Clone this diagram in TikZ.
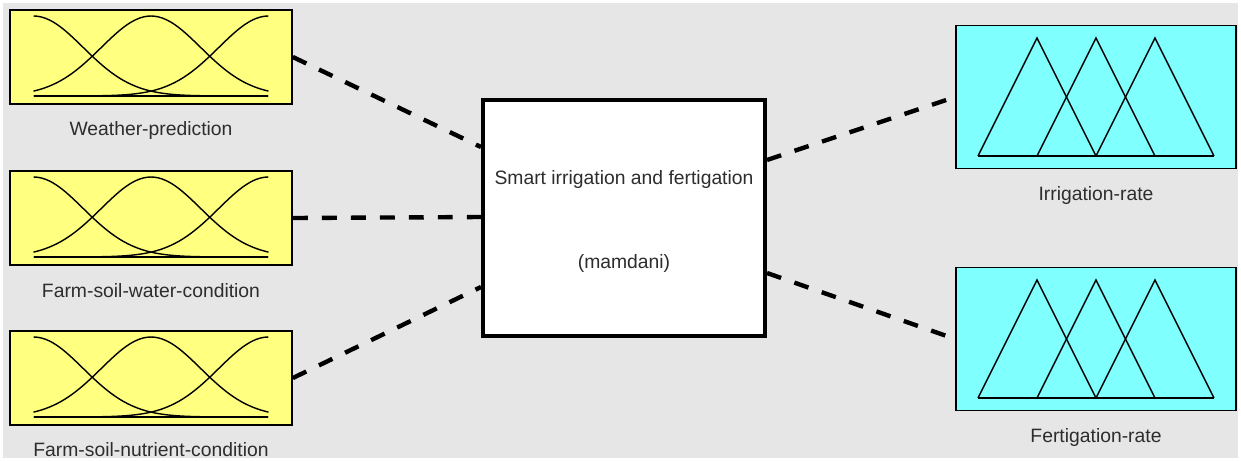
\documentclass[tikz,border=0pt]{standalone}
\usepackage{xcolor}
\usepackage{fontspec}
\setmainfont{Liberation Sans}
\usetikzlibrary{shapes}

\definecolor{inyellow}{RGB}{255,255,128}
\definecolor{outcyan}{RGB}{128,255,255}
\definecolor{bggray}{RGB}{230,230,230}
\definecolor{labelgray}{RGB}{45,45,45}

% three gaussian membership functions inside an input box
\newcommand{\gaussmfs}[1]{%
  \begin{scope}[shift={(#1.center)}, yshift=-0.78cm, x=2.35cm, y=1.6cm, line width=0.8pt]
    \foreach \m in {-1,0,1}
      \draw plot[domain=-1:1, samples=61, smooth] (\x, {exp(-((\x-\m)^2)/0.358)});
    \draw (-1,0) -- (1,0);
  \end{scope}}

% three triangular membership functions inside an output box
\newcommand{\trimfs}[1]{%
  \begin{scope}[shift={(#1.center)}, x=1.18cm, y=1.18cm, line width=0.8pt]
    \draw (-2,-1) -- (2,-1);
    \foreach \m in {-1,0,1}
      \draw (\m-1,-1) -- (\m,1) -- (\m+1,-1);
  \end{scope}}

\tikzset{
  invar/.style={draw=black, line width=1pt, fill=inyellow, minimum width=5.64cm, minimum height=1.88cm},
  outvar/.style={draw=black, line width=1pt, fill=outcyan, minimum width=5.6cm, minimum height=2.86cm},
  fisbox/.style={draw=black, line width=2.2pt, fill=white, minimum width=5.64cm, minimum height=4.72cm},
  varname/.style={text=labelgray, inner sep=0pt, font=\fontsize{11}{13}\selectfont},
}

\begin{document}
\begin{tikzpicture}[x=0.02cm, y=-0.02cm]
  \useasboundingbox (0,0) rectangle (1241,461);
  \fill[bggray] (3,3) rectangle (1238,458);

  % inputs
  \node[invar] (weather) at (151,57) {};
  \node[invar] (water) at (151,218) {};
  \node[invar] (nutrient) at (151,378) {};
  \gaussmfs{weather}
  \gaussmfs{water}
  \gaussmfs{nutrient}
  \node[varname] (weatherlab) at (151,130) {Weather-prediction};
  \node[varname] (waterlab) at (151,291) {Farm-soil-water-condition};
  \node[varname] (nutrientlab) at (151,450) {Farm-soil-nutrient-condition};

  % rule block
  \node[fisbox] (fis) at (624,218) {};
  \node[varname] (fisname) at (624,179) {Smart irrigation and fertigation};
  \node[varname] (fistype) at (624,263) {(mamdani)};

  % outputs
  \node[outvar] (irr) at (1096,97) {};
  \node[outvar] (fert) at (1096,339) {};
  \trimfs{irr}
  \trimfs{fert}
  \node[varname] (irrlab) at (1096,195) {Irrigation-rate};
  \node[varname] (fertlab) at (1096,437) {Fertigation-rate};

  \coordinate (in1) at (481,147);
  \coordinate (in2) at (481,217);
  \coordinate (in3) at (481,287);
  \coordinate (out1) at (767,160);
  \coordinate (out2) at (767,273);

  \begin{scope}[every edge/.style={draw=black, line width=2.5pt, dash pattern=on 8.5pt off 8pt}]
    \path (weather.east) edge (in1);
    \path (water.east) edge (in2);
    \path (nutrient.east) edge (in3);
    \path (out1) edge (irr.west);
    \path (out2) edge (fert.west);
  \end{scope}
\end{tikzpicture}
\end{document}
